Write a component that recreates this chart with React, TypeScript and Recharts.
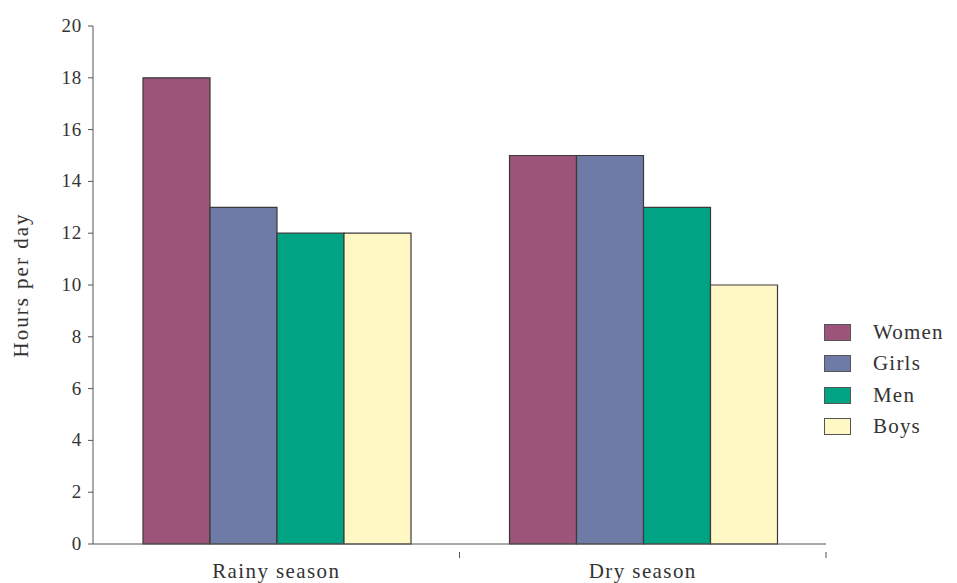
import { Bar, BarChart, XAxis, YAxis } from 'recharts';

const seasons = ['Rainy season', 'Dry season'];
const women = [18, 15];
const girls = [13, 15];
const men = [12, 13];
const boys = [12, 10];
const yTicks = [0, 2, 4, 6, 8, 10, 12, 14, 16, 18, 20];

const series = [
  { key: 'women', name: 'Women', color: '#9c5479' },
  { key: 'girls', name: 'Girls', color: '#6e7ba6' },
  { key: 'men', name: 'Men', color: '#00a383' },
  { key: 'boys', name: 'Boys', color: '#fff8c4' },
];

const data = seasons.map((season, i) => ({
  season,
  women: women[i],
  girls: girls[i],
  men: men[i],
  boys: boys[i],
}));

const W = 957;
const H = 583;
const xAxisHeight = 30;
const margin = { top: 26, right: 131, bottom: 39 - xAxisHeight, left: 0 };
const yAxisWidth = 93;
const bandWidth = (W - margin.left - margin.right - yAxisWidth) / seasons.length;
const font = 'Liberation Serif';
const axisColor = '#555';

function SeasonTick(props: any) {
  const { x, y, payload } = props;
  const edge = x + bandWidth / 2;
  return (
    <g>
      <line x1={edge} y1={y} x2={edge} y2={y + 6} stroke={axisColor} strokeWidth={1} />
      <text
        x={x}
        y={y + 26}
        textAnchor="middle"
        fontFamily={font}
        fontSize={21}
        letterSpacing={1.4}
        fill="#333"
      >
        {payload.value}
      </text>
    </g>
  );
}

function NumTick(props: any) {
  const { x, y, payload } = props;
  return (
    <text x={x} y={y} dy={6} textAnchor="end" fontFamily={font} fontSize={19} letterSpacing={0.8} fill="#333">
      {payload.value}
    </text>
  );
}

export default function App() {
  return (
    <div style={{ position: 'absolute', left: 0, top: 0, width: W, height: H, background: '#fff', fontFamily: font }}>
      <BarChart width={W} height={H} data={data} margin={margin} barCategoryGap={50} barGap={0}>
        <XAxis
          dataKey="season"
          height={xAxisHeight}
          stroke={axisColor}
          tickLine={false}
          tick={<SeasonTick />}
          interval={0}
        />
        <YAxis
          width={yAxisWidth}
          domain={[0, 20]}
          ticks={yTicks}
          stroke={axisColor}
          tickSize={5}
          tickMargin={6}
          tick={<NumTick />}
          label={{
            value: 'Hours per day',
            angle: -90,
            position: 'insideLeft',
            offset: 21,
            fontFamily: font,
            fontSize: 21,
            fill: '#333',
            style: { textAnchor: 'middle', letterSpacing: 2 },
          }}
        />
        {series.map((s) => (
          <Bar
            key={s.key}
            dataKey={s.key}
            name={s.name}
            fill={s.color}
            stroke="#3a3a3a"
            strokeWidth={1.2}
            isAnimationActive={false}
          />
        ))}
      </BarChart>
      <div
        style={{
          position: 'absolute',
          left: 824,
          top: 317,
          fontFamily: font,
          fontSize: 21,
          letterSpacing: 1.2,
          color: '#333',
        }}
      >
        {series.map((s) => (
          <div key={s.key} style={{ display: 'flex', alignItems: 'center', height: 31.3 }}>
            <div
              style={{
                width: 27,
                height: 17,
                background: s.color,
                border: '1px solid #555',
                boxSizing: 'border-box',
                marginRight: 22,
              }}
            />
            <span>{s.name}</span>
          </div>
        ))}
      </div>
    </div>
  );
}
